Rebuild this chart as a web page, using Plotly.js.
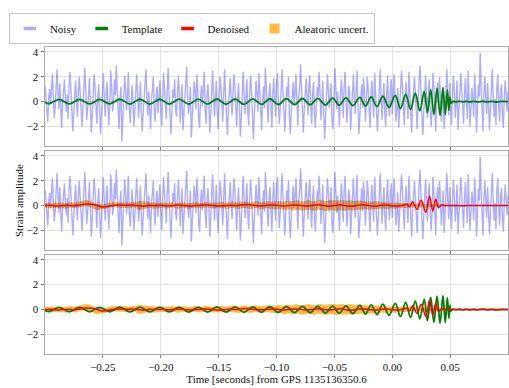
<!DOCTYPE html>
<html><head><meta charset="utf-8">
<script src="https://cdn.plot.ly/plotly-3.0.1.min.js"></script>
<style>html,body{margin:0;padding:0;background:#fff}#chart{width:509px;height:388px}</style>
</head><body><div id="chart"></div>
<script>
// ---------- data ----------
var tStart = -0.3, noisyStep = 0.0008;
var noisy = [
 1.3,0.4,-0.9,-1.6,0.3,1.0,-0.2,0.7,2.2,0.5,-1.3,-0.4,1.1,2.6,0.8,-0.6,1.5,-1.1,-2.1,-0.3,0.9,1.8,0.2,-0.8,0.6,
 -1.4,1.2,2.4,1.0,-0.5,-2.4,-1.0,0.4,1.7,0.1,-1.2,0.8,2.0,0.6,-0.9,-2.0,-0.4,1.3,2.7,0.9,-1.5,-0.6,0.5,1.9,-0.3,
 -2.5,-1.1,0.7,2.2,1.2,-0.2,-1.8,0.3,1.4,-0.7,-2.6,-0.9,1.0,2.3,0.4,-1.2,0.6,1.6,-0.4,-1.9,0.2,2.5,1.1,-0.8,-0.1,
 1.8,0.5,2.9,0.9,-1.0,-2.2,0.3,1.2,-3.2,-1.4,0.6,2.1,1.0,-0.7,0.4,2.4,-0.5,-1.7,-0.3,1.3,0.2,-2.0,-0.8,0.9,2.2,
 0.7,-1.3,-0.2,1.6,-0.6,-2.4,-1.0,0.5,1.9,2.6,0.3,-1.1,0.8,-0.4,-2.2,0.1,1.5,2.0,-0.7,-1.6,0.4,1.2,-0.9,0.6,1.7,
 -0.5,-2.0,0.2,2.3,1.1,-0.3,-1.4,0.9,2.7,0.6,-1.9,-2.6,-0.8,1.0,0.3,1.8,-0.6,-1.2,0.5,2.1,0.8,-1.7,-0.2,1.4,-2.3,
 -0.9,0.7,1.9,2.8,0.4,-1.0,-0.3,1.2,-2.9,-1.3,0.2,1.6,0.9,-0.6,2.2,1.0,-1.5,-2.1,0.3,1.3,-0.4,0.8,2.4,-0.7,-1.8,
 0.5,1.4,-0.2,-2.5,-0.9,1.1,2.5,0.6,-1.2,0.3,1.7,-0.8,-2.2,-0.1,2.0,1.2,-0.5,-1.6,0.7,2.6,0.4,-1.3,-2.7,-0.6,1.0,
 1.9,0.2,-1.1,0.6,2.2,1.3,-0.7,-2.0,0.1,1.5,-0.4,-2.8,-1.2,0.8,2.4,0.5,-1.0,0.3,1.8,-0.9,-1.9,0.7,2.1,1.0,-0.6,
 -3.0,-1.1,0.9,1.7,0.4,-0.8,2.3,0.7,-1.4,-2.3,0.2,1.2,-0.5,2.7,1.1,-0.9,-1.7,0.5,1.5,-0.3,-2.1,0.6,1.9,0.3,-1.2,
 1.4,2.3,0.1,-1.8,-0.6,1.0,2.6,0.8,-0.9,-2.4,-0.5,1.2,0.4,2.0,-1.3,-2.6,-0.7,0.9,1.6,-0.2,0.6,2.2,-1.0,-1.9,0.3,
 1.1,3.0,0.6,-1.4,-2.5,-0.6,0.8,1.9,0.2,-1.1,1.4,2.1,-0.4,-1.8,0.5,1.6,-0.9,-2.1,-0.3,1.2,0.4,2.4,0.7,-1.5,-0.2,
 1.7,-0.8,-3.0,-1.3,0.9,2.2,1.0,-0.5,0.3,1.5,-1.6,-2.2,0.1,2.7,1.2,-0.6,0.8,-1.0,-2.0,0.4,1.8,0.6,-1.3,1.1,2.4,
 0.3,-1.7,-0.4,1.3,0.7,-2.3,-0.9,1.6,2.2,0.5,-1.0,0.9,2.5,-0.3,-2.6,-1.1,0.6,1.4,-0.5,1.9,0.8,-1.6,-0.2,2.0,1.1,
 -0.7,-2.1,0.4,1.7,0.2,-1.3,2.3,1.0,-0.4,-2.4,-0.8,1.2,2.6,0.5,-1.5,0.1,1.5,-0.9,-2.0,0.7,2.1,-0.2,-1.2,0.9,1.8,
 -1.0,0.6,2.2,0.3,-1.6,-0.5,1.1,-2.1,-0.7,0.8,2.5,1.2,-0.9,-1.9,0.4,1.6,0.0,-1.4,2.4,0.9,-0.6,-2.5,-0.3,1.3,2.0,
 0.5,-1.2,-2.2,0.2,1.4,2.9,0.8,-0.7,-2.7,-0.9,1.0,2.1,0.3,-1.3,0.7,1.8,-0.4,-2.0,-0.6,2.3,1.1,-1.0,-2.4,0.5,1.5,
 -0.3,2.0,0.6,-1.6,-0.4,1.2,-2.2,-0.8,0.9,2.6,0.3,-1.1,1.5,-0.6,-1.9,0.4,2.1,0.9,-1.3,-0.2,1.7,-2.3,-0.9,0.6,2.3,
 1.0,-0.7,-1.8,0.5,1.9,0.2,-1.4,2.5,0.8,-2.0,-0.5,1.1,0.3,-1.2,2.2,0.6,-2.5,-0.9,1.4,0.4,3.9,1.2,-1.5,-2.4,0.7,
 2.0,0.4,-1.0,1.5,-0.3,-2.3,-0.7,1.8,2.6,0.5,-1.2,0.2,-1.9,1.2,2.2,-0.4,-1.6,0.8,1.4,-1.0,-2.1,0.3,1.7,0.5,-0.8,
 0.8
];
// template: times and values of its turning points
var templateT = [-0.3,-0.2966,-0.2878,-0.2790,-0.2702,-0.2614,-0.2527,-0.2440,-0.2353,-0.2266,-0.2180,-0.2094,-0.2009,-0.1925,-0.1841,-0.1758,-0.1676,-0.1595,-0.1515,-0.1436,-0.1358,-0.1281,-0.1205,-0.1130,-0.1057,-0.0985,-0.0914,-0.0844,-0.0776,-0.0709,-0.0643,-0.0578,-0.0515,-0.0458,-0.0400,-0.0340,-0.0280,-0.0231,-0.0182,-0.0132,-0.0081,-0.0028,0.0026,0.0071,0.0116,0.0158,0.0199,0.0238,0.0276,0.0304,0.0332,0.0360,0.0387,0.0413,0.0438,0.0458,0.0476,0.0489,0.0499,0.0507,0.0525,0.0550,0.0580,0.0610,0.0640,0.0670,0.0700,0.0740,0.0780,0.0820,0.0860,0.0900,0.0950,0.1000];
var templateY = [-0.05,-0.17,0.18,-0.18,0.18,-0.18,0.18,-0.18,0.19,-0.19,0.19,-0.19,0.19,-0.19,0.20,-0.20,0.20,-0.20,0.21,-0.21,0.21,-0.22,0.22,-0.22,0.23,-0.23,0.24,-0.24,0.25,-0.25,0.26,-0.27,0.28,-0.29,0.30,-0.32,0.34,-0.36,0.38,-0.40,0.43,-0.46,0.50,-0.55,0.58,-0.63,0.68,-0.74,0.82,-0.90,0.97,-1.03,1.08,-1.10,1.12,-1.05,0.95,-0.70,0.35,-0.12,0.03,-0.03,0.04,-0.02,0.03,-0.03,0.02,-0.02,0.03,-0.02,0.02,-0.03,0.02,0.0];
// denoised output
var denoisedT = [-0.3,-0.295,-0.29,-0.285,-0.28,-0.275,-0.27,-0.265,-0.26,-0.255,-0.25,-0.245,-0.24,-0.235,-0.23,-0.225,-0.22,-0.215,-0.21,-0.205,-0.2,-0.195,-0.19,-0.185,-0.18,-0.175,-0.17,-0.165,-0.16,-0.155,-0.15,-0.145,-0.14,-0.135,-0.13,-0.125,-0.12,-0.115,-0.11,-0.105,-0.1,-0.095,-0.09,-0.085,-0.08,-0.075,-0.07,-0.065,-0.06,-0.055,-0.05,-0.045,-0.04,-0.035,-0.03,-0.025,-0.02,-0.015,-0.01,-0.005,0.0,0.005,0.01,0.0125,0.015,0.0175,0.0214,0.025,0.029,0.0322,0.035,0.0375,0.04,0.0425,0.046,0.05,0.06,0.07,0.08,0.09,0.1];
var denoisedY = [0.0,0.02,-0.03,0.0,0.03,-0.02,0.05,0.12,0.10,0.0,-0.12,-0.06,0.03,0.05,0.02,0.04,0.0,-0.05,0.02,0.0,0.03,-0.02,0.0,0.04,0.01,-0.03,0.0,0.03,0.05,0.0,-0.04,-0.01,0.03,0.0,0.05,0.08,0.03,-0.02,0.0,0.04,0.02,-0.03,0.0,0.05,0.02,-0.04,0.0,0.06,0.03,-0.05,0.0,0.06,-0.02,-0.06,0.02,0.07,0.0,-0.06,0.03,0.05,-0.02,-0.04,0.05,0.10,-0.10,0.30,-0.30,0.42,-0.55,0.75,-0.45,0.50,-0.15,0.05,0.0,0.01,-0.01,0.01,0.0,0.01,0.0];
// aleatoric uncertainty band (upper / lower edges)
var bandStep = 0.0025;
var bandUpper = [
 0.2,0.25,0.18,0.22,0.27,0.2,0.24,0.19,0.23,0.28,0.22,0.26,0.3,0.38,0.45,0.42,0.35,0.2,0.15,0.12,
 0.1,0.15,0.22,0.26,0.3,0.27,0.24,0.28,0.25,0.22,0.26,0.3,0.32,0.36,0.33,0.3,0.28,0.24,0.2,0.23,
 0.22,0.26,0.2,0.24,0.28,0.23,0.2,0.25,0.27,0.22,0.19,0.24,0.28,0.25,0.21,0.26,0.29,0.24,0.2,0.23,
 0.27,0.3,0.25,0.22,0.28,0.32,0.27,0.24,0.3,0.33,0.28,0.25,0.3,0.34,0.29,0.26,0.31,0.35,0.3,0.28,
 0.32,0.36,0.3,0.35,0.4,0.34,0.38,0.42,0.36,0.33,0.39,0.44,0.38,0.35,0.41,0.46,0.4,0.37,0.43,0.47,
 0.45,0.4,0.44,0.42,0.38,0.43,0.4,0.36,0.41,0.38,0.34,0.37,0.33,0.3,0.34,0.31,0.28,0.3,0.27,0.25,
 0.24,0.2,0.23,0.19,0.2,0.17,0.16,0.18,0.15,0.14,0.16,0.13,0.12,0.13,0.1,0.09,0.08,0.06,0.04,0.03,
 0.03,0.03,0.04,0.03,0.02,0.03,0.04,0.03,0.03,0.02,0.03,0.04,0.03,0.02,0.03,0.03,0.04,0.03,0.02,0.03,0.03];
var bandLower = [
 -0.2,-0.18,-0.24,-0.2,-0.17,-0.23,-0.19,-0.25,-0.2,-0.16,-0.22,-0.18,-0.12,-0.08,-0.05,-0.1,-0.2,-0.3,-0.38,-0.32,
 -0.3,-0.25,-0.18,-0.14,-0.12,-0.15,-0.18,-0.16,-0.2,-0.22,-0.18,-0.15,-0.3,-0.35,-0.3,-0.25,-0.17,-0.21,-0.25,-0.22,
 -0.2,-0.17,-0.23,-0.19,-0.16,-0.22,-0.26,-0.2,-0.17,-0.23,-0.25,-0.19,-0.16,-0.21,-0.24,-0.18,-0.15,-0.2,-0.24,-0.21,
 -0.2,-0.17,-0.22,-0.26,-0.2,-0.17,-0.23,-0.27,-0.21,-0.18,-0.24,-0.28,-0.22,-0.19,-0.25,-0.29,-0.23,-0.2,-0.26,-0.3,
 -0.3,-0.26,-0.33,-0.37,-0.3,-0.34,-0.39,-0.32,-0.36,-0.41,-0.35,-0.31,-0.38,-0.42,-0.36,-0.33,-0.4,-0.44,-0.38,-0.35,
 -0.4,-0.44,-0.38,-0.42,-0.39,-0.36,-0.4,-0.37,-0.33,-0.36,-0.32,-0.29,-0.33,-0.3,-0.27,-0.3,-0.26,-0.24,-0.27,-0.23,
 -0.22,-0.25,-0.2,-0.22,-0.18,-0.2,-0.16,-0.15,-0.17,-0.14,-0.13,-0.15,-0.12,-0.11,-0.1,-0.09,-0.07,-0.05,-0.04,-0.03,
 -0.03,-0.02,-0.03,-0.04,-0.03,-0.02,-0.03,-0.03,-0.04,-0.03,-0.02,-0.03,-0.03,-0.04,-0.03,-0.02,-0.03,-0.04,-0.03,-0.03,-0.03];
var xTickVals = [-0.25,-0.20,-0.15,-0.10,-0.05,0.00,0.05];
var yTickVals = [-2,0,2,4];
var seriesNames = ['Noisy','Template','Denoised','Aleatoric uncert.'];
var xTitle = 'Time [seconds] from GPS 1135136350.6';
var yTitle = 'Strain amplitude';

// ---------- build ----------
var noisyT = noisy.map(function(v,i){return +(tStart + i*noisyStep).toFixed(5);});
var bandT = bandUpper.map(function(v,i){return +(tStart + i*bandStep).toFixed(5);});

var cNoisy='rgba(0,0,255,0.32)', cTemp='#008000', cDen='#ff0000', cBand='rgba(255,165,0,0.75)';

function noisyTrace(xa,ya){return {x:noisyT,y:noisy,xaxis:xa,yaxis:ya,mode:'lines',line:{color:cNoisy,width:1.4},showlegend:false,hoverinfo:'skip'};}
function tempTrace(xa,ya){return {x:templateT,y:templateY,xaxis:xa,yaxis:ya,mode:'lines',line:{color:cTemp,width:1.8,shape:'spline',smoothing:1},showlegend:false,hoverinfo:'skip'};}
function denTrace(xa,ya){return {x:denoisedT,y:denoisedY,xaxis:xa,yaxis:ya,mode:'lines',line:{color:cDen,width:1.5,shape:'spline',smoothing:1},showlegend:false,hoverinfo:'skip'};}
function bandTraces(xa,ya){return [
  {x:bandT,y:bandLower,xaxis:xa,yaxis:ya,mode:'lines',line:{width:0,color:cBand},showlegend:false,hoverinfo:'skip'},
  {x:bandT,y:bandUpper,xaxis:xa,yaxis:ya,mode:'lines',line:{width:0,color:cBand},fill:'tonexty',fillcolor:cBand,showlegend:false,hoverinfo:'skip'}];}
function legendTrace(name,symbol,color,size){
  var m = symbol==='square' ? {symbol:'square',size:size,color:color,line:{width:0}} : {symbol:'line-ew',size:size,color:color,line:{width:3.5,color:color}};
  return {x:[null],y:[null],xaxis:'x',yaxis:'y',mode:'markers',name:name,marker:m,showlegend:true};
}

var data = [];
data.push(noisyTrace('x','y'), tempTrace('x','y'));
data = data.concat(bandTraces('x2','y2'));
data.push(noisyTrace('x2','y2'), denTrace('x2','y2'));
data = data.concat(bandTraces('x3','y3'));
data.push(tempTrace('x3','y3'), denTrace('x3','y3'));
data.push(legendTrace(seriesNames[0],'line',cNoisy,9), legendTrace(seriesNames[1],'line',cTemp,9),
          legendTrace(seriesNames[2],'line',cDen,9), legendTrace(seriesNames[3],'square',cBand,10));

var font = {family:'"Liberation Serif", "Times New Roman", serif', size:11, color:'#111'};
function xax(show){return {range:[-0.3,0.1],tickvals:xTickVals,tickformat:'.2f',showticklabels:show,ticks:'outside',ticklen:3.5,tickcolor:'#888',
  showgrid:true,gridcolor:'#e2e2e2',gridwidth:1,zeroline:false,showline:true,mirror:true,linecolor:'#aaaaaa',linewidth:1,tickfont:font};}
function yax(dom){return {domain:dom,range:[-3.57,4.38],tickvals:yTickVals,ticks:'outside',ticklen:3.5,tickcolor:'#888',
  showgrid:true,gridcolor:'#e2e2e2',gridwidth:1,zeroline:false,showline:true,mirror:true,linecolor:'#aaaaaa',linewidth:1,tickfont:font};}

var layout = {
  width:509,height:388,margin:{l:45,r:1,t:47,b:34},paper_bgcolor:'#fff',plot_bgcolor:'#fff',font:font,
  xaxis:Object.assign(xax(false),{anchor:'y'}),
  xaxis2:Object.assign(xax(false),{anchor:'y2',matches:'x'}),
  xaxis3:Object.assign(xax(true),{anchor:'y3',matches:'x',ticklen:2.5,title:{text:xTitle,font:font,standoff:0}}),
  yaxis:yax([0.677,1]),
  yaxis2:Object.assign(yax([0.3387,0.661]),{title:{text:yTitle,font:font,standoff:0}}),
  yaxis3:yax([0,0.3225]),
  legend:{orientation:'h',traceorder:'normal',x:-0.078,xanchor:'left',y:1.1107,yanchor:'top',bordercolor:'#c4c4c4',borderwidth:1,bgcolor:'#fff',font:font,itemwidth:30,tracegroupgap:0},
  showlegend:true
};
Plotly.newPlot('chart',data,layout,{staticPlot:true,displayModeBar:false});
</script></body></html>
